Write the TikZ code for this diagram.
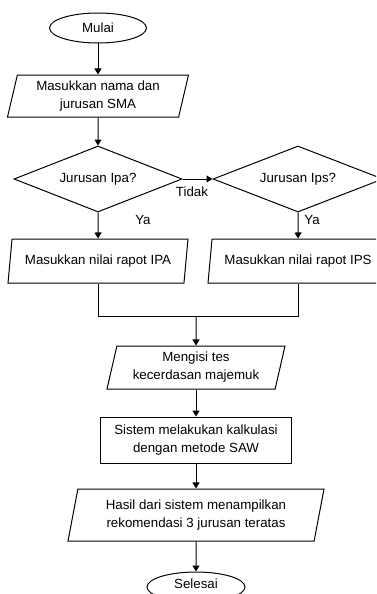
\documentclass[tikz,border=0pt]{standalone}
\usepackage{fontspec}
\setmainfont{Liberation Sans}
\usetikzlibrary{shapes.geometric,arrows.meta}
\begin{document}
\begin{tikzpicture}[x=1pt,y=-1pt,
  base/.style={draw=black, line width=1pt, font=\fontsize{13.3}{18}\selectfont, align=center, inner sep=0pt},
  term/.style={base, ellipse, minimum width=97pt, minimum height=30pt},
  io/.style={base, trapezium, trapezium left angle=72, trapezium right angle=108, trapezium stretches body},
  proc/.style={base, rectangle},
  dec/.style={base, diamond, aspect=2.55, minimum width=168pt, minimum height=66pt},
  arr/.style={line width=1pt, -{Triangle[length=6pt,width=7pt]}},
  conn/.style={line width=1pt},
  lbl/.style={font=\fontsize{13.3}{16}\selectfont, inner sep=0pt}
]
\useasboundingbox (0,0) rectangle (376,594);
\clip (0,0) rectangle (376,594);
\node[term] (mulai) at (98,28) {Mulai};
\node[io, minimum width=181pt, minimum height=42pt] (in1) at (98,96) {Masukkan nama dan\\jurusan SMA};
\node[dec] (d1) at (98,179) {Jurusan Ipa?};
\node[dec, minimum width=170pt] (d2) at (298,179) {Jurusan Ips?};
\node[io, minimum width=180pt, minimum height=44pt] (ipa) at (98,261) {Masukkan nilai rapot IPA};
\node[io, minimum width=180pt, minimum height=44pt] (ips) at (298,261) {Masukkan nilai rapot IPS};
\coordinate (j) at (196,316);
\node[io, minimum width=178pt, minimum height=43pt] (tes) at (196,367.5) {Mengisi tes\\kecerdasan majemuk};
\node[proc, minimum width=191pt, minimum height=46pt] (saw) at (196,440) {Sistem melakukan kalkulasi\\dengan metode SAW};
\node[io, minimum width=256pt, minimum height=52pt] (hasil) at (196,515) {Hasil dari sistem menampilkan\\rekomendasi 3 jurusan teratas};
\node[term, minimum width=98pt] (selesai) at (196,587) {};
\node[lbl] (selesaitext) at (196,583.5) {Selesai};
\node[lbl] (tidak) at (192,192) {Tidak};
\node[lbl] (ya1) at (143,220) {Ya};
\node[lbl] (ya2) at (312,220) {Ya};
\draw[arr] (mulai) -- (in1);
\draw[arr] (in1) -- (d1);
\draw[arr] (d1.east) -- (d2.west);
\draw[arr] (d1.south) -- (ipa.north);
\draw[arr] (d2.south) -- (ips.north);
\draw[conn] (ipa.south) -- (ipa.south |- j) -- (ips.south |- j) -- (ips.south);
\draw[arr] (j) -- (tes.north);
\draw[arr] (tes) -- (saw);
\draw[arr] (saw) -- (hasil);
\draw[arr] (hasil) -- (selesai);
\end{tikzpicture}
\end{document}
